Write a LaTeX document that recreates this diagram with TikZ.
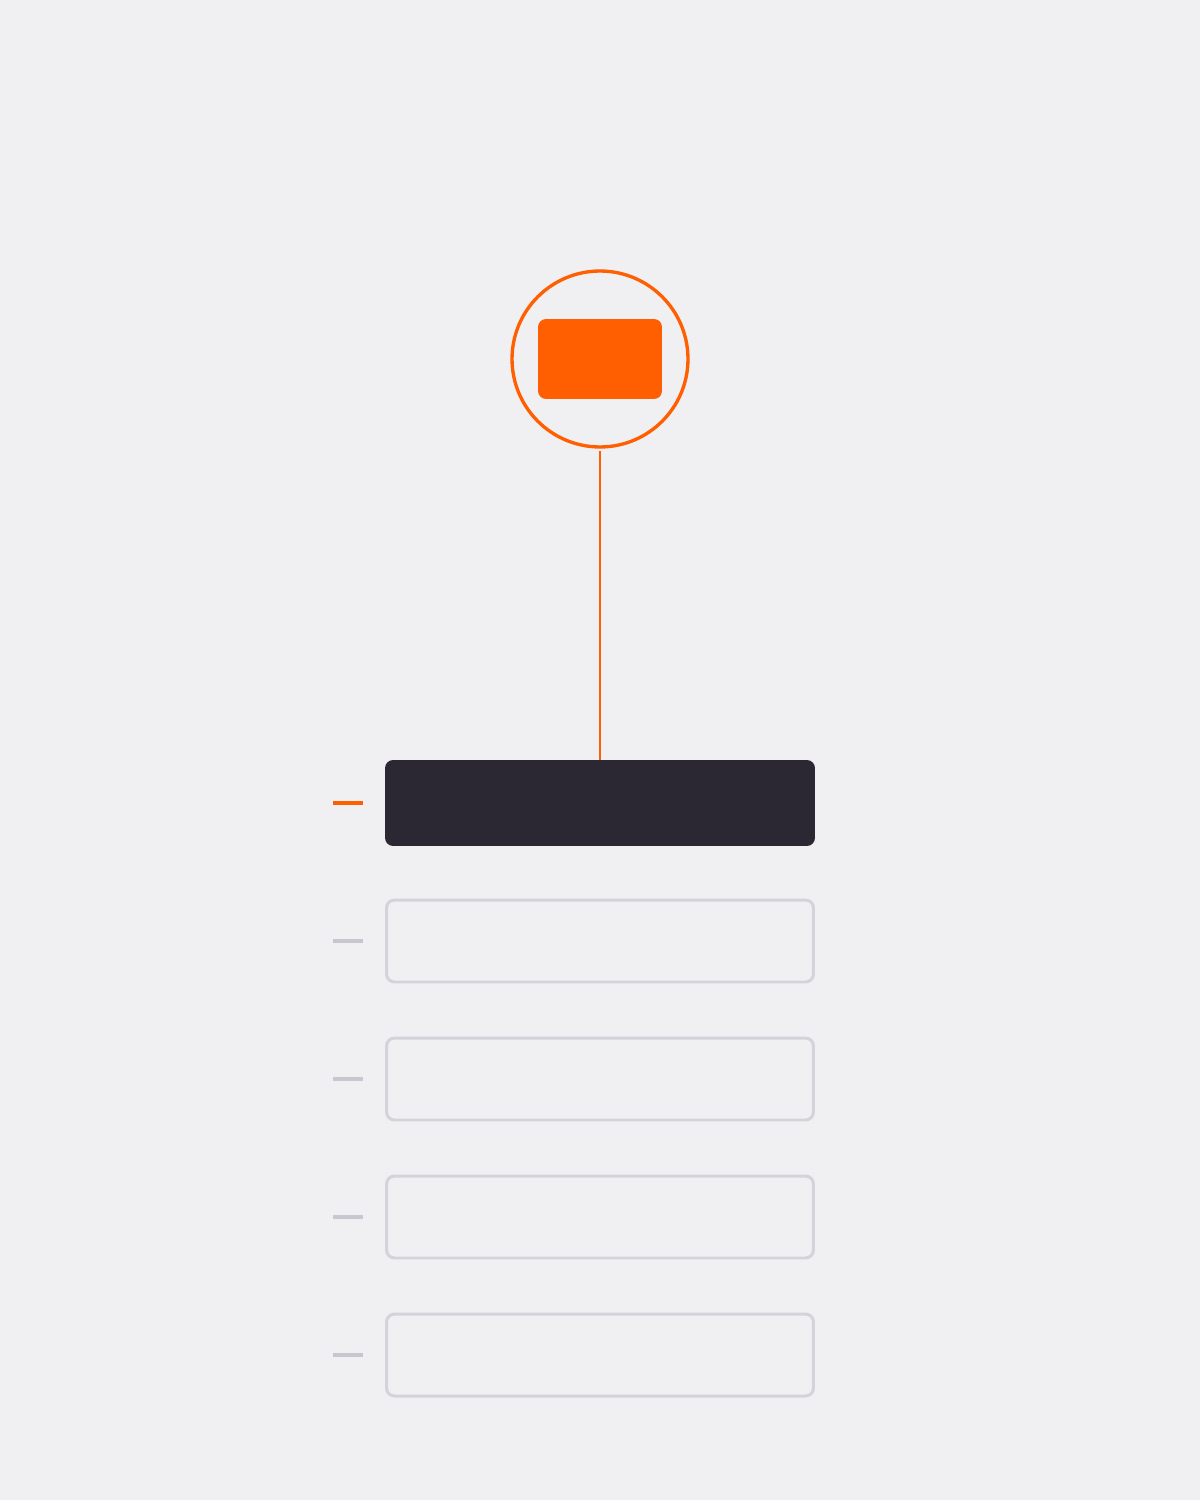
\documentclass[tikz,border=0pt]{standalone}
\usepackage{tikz}
\usetikzlibrary{positioning}

\definecolor{bgcol}{HTML}{F0F0F2}
\definecolor{accent}{HTML}{FF5F00}
\definecolor{inkdark}{HTML}{2B2833}
\definecolor{rimgray}{HTML}{D4D3DA}
\definecolor{tickgray}{HTML}{C8C7CF}

\tikzset{
    hub/.style={circle, draw=accent, line width=1.9pt, minimum size=3.52cm, inner sep=0pt},
    chip/.style={rectangle, rounded corners=0.16cm, fill=accent, minimum width=2.48cm, minimum height=1.6cm, inner sep=0pt},
    slotdark/.style={rectangle, rounded corners=0.16cm, fill=inkdark, minimum width=8.6cm, minimum height=1.72cm, inner sep=0pt},
    slot/.style={rectangle, rounded corners=0.16cm, draw=rimgray, line width=1.7pt, minimum width=8.54cm, minimum height=1.64cm, inner sep=0pt},
    tick/.style={line width=2pt},
}

\begin{document}
\begin{tikzpicture}[x=0.02cm, y=-0.02cm]
    %% Background
    \fill[bgcol] (0,0) rectangle (1200,1500);

    %% Top marker
    \node[hub] (hub) at (600,359) {};
    \node[chip] (chip) at (hub.center) {};

    %% Stack of slots
    \node[slotdark] (s1) at (600,803) {};
    \foreach \i/\y in {2/941, 3/1079, 4/1217, 5/1355}
        \node[slot] (s\i) at (600,\y) {};

    %% Connector
    \draw[accent, line width=1.4pt, shorten <=0.05cm] (hub.south) -- (s1.north);

    %% Side ticks
    \draw[tick, accent] (333,803) coordinate (t1) -- (363,803);
    \foreach \y in {941, 1079, 1217, 1355}
        \draw[tick, tickgray] (333,\y) -- (363,\y);
\end{tikzpicture}
\end{document}
